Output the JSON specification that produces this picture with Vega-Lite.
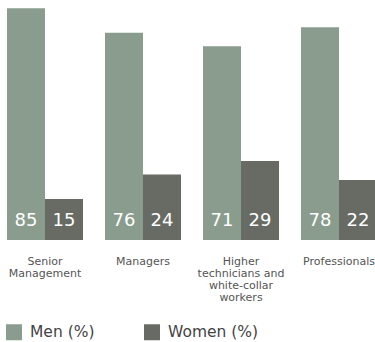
{
  "$schema": "https://vega.github.io/schema/vega-lite/v6.json",
  "autosize": {"type": "none"},
  "width": 375,
  "height": 240,
  "padding": {"left": 0, "top": 0, "right": 0, "bottom": 102},
  "background": "white",
  "config": {"view": {"stroke": null}, "font": "DejaVu Sans"},
  "data": {"values": [
    {"category": "Senior Management", "gender": "Men (%)", "value": 85},
    {"category": "Senior Management", "gender": "Women (%)", "value": 15},
    {"category": "Managers", "gender": "Men (%)", "value": 76},
    {"category": "Managers", "gender": "Women (%)", "value": 24},
    {"category": "Higher technicians and white-collar workers", "gender": "Men (%)", "value": 71},
    {"category": "Higher technicians and white-collar workers", "gender": "Women (%)", "value": 29},
    {"category": "Professionals", "gender": "Men (%)", "value": 78},
    {"category": "Professionals", "gender": "Women (%)", "value": 22}
  ]},
  "encoding": {
    "x": {
      "field": "category", "type": "nominal", "sort": null,
      "scale": {"range": [7, 377], "paddingInner": 0.2245, "paddingOuter": 0},
      "axis": {
        "title": null, "domain": false, "ticks": false, "labelAngle": 0,
        "labelFontSize": 11, "labelColor": "#555555", "labelPadding": 15,
        "labelLineHeight": 12, "labelBaseline": "top",
        "labelExpr": "datum.label == 'Senior Management' ? ['Senior', 'Management'] : datum.label == 'Higher technicians and white-collar workers' ? ['Higher', 'technicians and', 'white-collar', 'workers'] : datum.label",
        "labelOverlap": false, "labelBound": false, "labelFlush": false
      }
    },
    "xOffset": {"field": "gender", "type": "nominal", "scale": {"paddingInner": 0, "paddingOuter": 0}}
  },
  "layer": [
    {
      "mark": {"type": "bar", "clip": false},
      "encoding": {
        "y": {"field": "value", "type": "quantitative", "scale": {"domain": [0, 88], "nice": false}, "axis": null},
        "color": {
          "field": "gender", "type": "nominal",
          "scale": {"domain": ["Men (%)", "Women (%)"], "range": ["#8a9c8e", "#676b63"]},
          "legend": {
            "title": null, "orient": "none", "legendX": 6, "legendY": 324,
            "direction": "horizontal", "symbolType": "square", "symbolSize": 256,
            "symbolStrokeWidth": 0, "symbolOpacity": 1,
            "labelFontSize": 15.5, "labelColor": "#444444", "labelOffset": 8,
            "columnPadding": 49, "padding": 0
          }
        }
      }
    },
    {
      "mark": {"type": "text", "color": "white", "fontSize": 18, "baseline": "alphabetic", "dy": -14},
      "encoding": {
        "y": {"datum": 0, "type": "quantitative"},
        "text": {"field": "value", "type": "quantitative"}
      }
    }
  ]
}
